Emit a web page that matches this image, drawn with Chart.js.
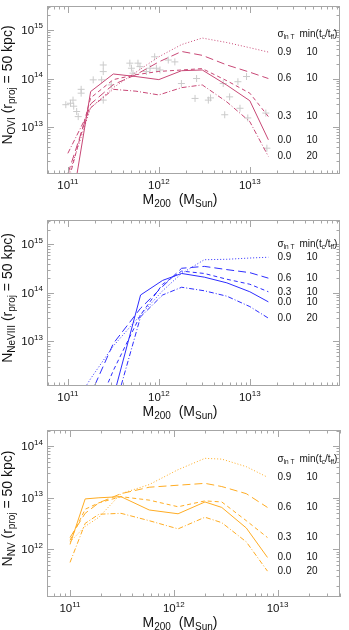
<!DOCTYPE html>
<html lang="en">
<head>
<meta charset="UTF-8">
<title>Column density vs halo mass</title>
<script src="https://cdn.jsdelivr.net/npm/chart.js@4.4.0/dist/chart.umd.min.js"></script>
<style>
  html, body { margin: 0; padding: 0; background: #fff; }
  .panel { position: absolute; left: 0; width: 349px; height: 210px; }
</style>
</head>
<body>
<div class="panel" style="top:0"><canvas id="ovi" width="349" height="210"></canvas></div>
<div class="panel" style="top:210px"><canvas id="neviii" width="349" height="210"></canvas></div>
<div class="panel" style="top:420px"><canvas id="nv" width="349" height="210"></canvas></div>
<script>
// row labels at the right end of the curves
var sigmaLabels = ['0.9', '0.6', '0.3', '0.0', '0.0'];
var tminLabels = ['10', '10', '10', '10', '20'];

// O VI panel (series order: 0.9/10, 0.6/10, 0.3/10, 0.0/10, 0.0/20)
var oviMass = [1e11, 1.78e11, 3.16e11, 5.6e11, 1e12, 1.78e12, 3e12, 5.6e12, 1e13, 1.6e13];
var oviS09 = [9e11, 2.5e13, 6.5e13, 1.35e14, 2.8e14, 5e14, 6.8e14, 5.5e14, 4.3e14, 3.5e14];
var oviS06 = [1.1e12, 3e13, 7.5e13, 1.2e14, 2.2e14, 3.6e14, 3e14, 1.9e14, 1.35e14, 1e14];
var oviS03 = [7e11, 4e13, 9.5e13, 1.2e14, 1.4e14, 1.5e14, 1.6e14, 9e13, 5e13, 1.65e13];
var oviS00 = [8e10, 5.4e13, 1.24e14, 1.1e14, 9.5e13, 1.45e14, 1.5e14, 7.3e13, 3.5e13, 5.5e12];
var oviS00t20 = [2.9e12, 2.5e13, 6e13, 5.5e13, 4.6e13, 6.5e13, 7.4e13, 3.3e13, 1.3e13, 2.5e12];

// observed O VI columns (grey crosses)
var obsMass = [9.5e10, 1.07e11, 1.14e11, 1.16e11, 1.25e11, 1.3e11, 1.4e11, 1.4e11, 1.9e11, 2.45e11,
  2.45e11, 2.35e11, 3e11, 4.8e11, 5e11, 5.2e11, 5.9e11, 6.2e11, 7.3e11, 8e11,
  9e11, 9.4e11, 1.03e12, 1.27e12, 1.5e12, 1.77e12, 2.5e12, 2.6e12, 3.5e12, 3.7e12,
  5.1e12, 5.3e12, 6e12, 7.4e12, 7.8e12, 9.2e12, 9.5e12, 1.5e13, 1.54e13, 2.45e11];
var obsN = [2.9e13, 3.1e13, 3.6e13, 2.7e13, 2.1e13, 1.65e13, 6e13, 5e13, 9.4e13, 1.39e14,
  1.9e14, 9.4e13, 7.4e13, 2.07e14, 1.63e14, 1.29e14, 2.07e14, 1.76e14, 1.39e14, 1.63e14,
  2.8e14, 1.63e14, 1.5e14, 2.4e14, 2.2e14, 7.9e13, 3.9e13, 1e14, 3.6e13, 4e13,
  7.9e13, 1.8e13, 4.2e13, 8.6e13, 2.45e13, 1.1e14, 1.55e13, 1.95e13, 3.7e12, 3.6e13];

// Ne VIII panel
var neMass = [1e11, 1.78e11, 3.16e11, 6.3e11, 1.1e12, 1.78e12, 3.16e12, 5.6e12, 1e13, 1.6e13];
var neS09 = [3e11, 1.7e12, 8e12, 3.5e13, 1.1e14, 2.5e14, 4.8e14, 4.9e14, 5.2e14, 5.4e14];
var neS06 = [1e11, 8e11, 9e12, 4.8e13, 1.35e14, 3.2e14, 3.5e14, 3e14, 2.6e14, 2e14];
var neS03 = [1e10, 2e11, 2.5e12, 3.5e13, 1.5e14, 2.8e14, 2.5e14, 1.9e14, 1.5e14, 1.05e14];
var neS00 = [1e9, 5e10, 7e11, 9e13, 1.8e14, 2.5e14, 2.1e14, 1.6e14, 1.05e14, 6.5e13];
var neS00t20 = [1e9, 3e10, 3.3e11, 3.2e13, 9e13, 1.3e14, 1.1e14, 8.5e13, 5.2e13, 3e13];

// N V panel
var nvMass = [1e11, 1.4e11, 1.9e11, 3.1e11, 5.8e11, 1.1e12, 2e12, 2.9e12, 5e12, 8e12];
var nvS09 = [1.4e12, 2.8e12, 4.2e12, 1.2e13, 1.8e13, 3.5e13, 5.8e13, 5.6e13, 4e13, 2.5e13];
var nvS06 = [1.7e12, 5e12, 8e12, 1.2e13, 1.6e13, 1.75e13, 1.9e13, 1.65e13, 1.2e13, 6.5e12];
var nvS03 = [1.5e12, 6e12, 8e12, 1.05e13, 9e12, 6.7e12, 8.7e12, 8.3e12, 3.6e12, 1.7e12];
var nvS00 = [1.25e12, 9.5e12, 1e13, 1.05e13, 5.8e12, 4.9e12, 8.3e12, 6.5e12, 2.6e12, 7e11];
var nvS00t20 = [5.6e11, 3.2e12, 4.8e12, 5e12, 3.6e12, 2.5e12, 4.2e12, 3.3e12, 1.4e12, 3.8e11];

var dashes = [[1, 2], [8, 4], [4, 3], [], [5, 2, 1, 2]];
var FONT = 'Helvetica, Arial, "Liberation Sans", sans-serif';

function font(px) { return px + 'px ' + FONT; }

// draw a run of text pieces, some lowered (sub) or raised (sup)
function richWidth(ctx, parts) {
  var w = 0;
  parts.forEach(function (p) { ctx.font = font(p.f); w += ctx.measureText(p.t).width; });
  return w;
}
function drawRich(ctx, parts, x, y) {
  parts.forEach(function (p) {
    ctx.font = font(p.f);
    ctx.fillText(p.t, x, y + (p.dy || 0));
    x += ctx.measureText(p.t).width;
  });
}

function logTicks(scale) {
  var out = [];
  var e0 = Math.floor(Math.log10(scale.min)), e1 = Math.ceil(Math.log10(scale.max));
  for (var e = e0; e <= e1; e++) {
    for (var m = 1; m < 10; m++) {
      var v = m * Math.pow(10, e);
      if (v >= scale.min * 0.999 && v <= scale.max * 1.001) out.push({ v: v, e: e, major: m === 1 });
    }
  }
  return out;
}

var frame = {
  id: 'frame',
  afterDraw: function (chart, args, o) {
    var ctx = chart.ctx, a = chart.chartArea;
    var xs = chart.scales.x, ys = chart.scales.y;
    ctx.save();
    ctx.strokeStyle = '#a6a6a6';
    ctx.lineWidth = 1;
    ctx.strokeRect(a.left + 0.5, a.top + 0.5, a.right - a.left - 1, a.bottom - a.top - 1);

    ctx.beginPath();
    logTicks(xs).forEach(function (t) {
      var px = Math.round(xs.getPixelForValue(t.v)) + 0.5, len = t.major ? 7 : 3.5;
      ctx.moveTo(px, a.bottom); ctx.lineTo(px, a.bottom - len);
      ctx.moveTo(px, a.top); ctx.lineTo(px, a.top + len);
    });
    logTicks(ys).forEach(function (t) {
      var py = Math.round(ys.getPixelForValue(t.v)) + 0.5, len = t.major ? 7 : 3.5;
      ctx.moveTo(a.left, py); ctx.lineTo(a.left + len, py);
      ctx.moveTo(a.right, py); ctx.lineTo(a.right - len, py);
    });
    ctx.stroke();

    ctx.fillStyle = '#111';
    ctx.textBaseline = 'alphabetic';
    ctx.textAlign = 'left';
    // decade labels
    logTicks(xs).filter(function (t) { return t.major; }).forEach(function (t) {
      var parts = [{ t: '10', f: 11.5 }, { t: String(t.e), f: 8, dy: -5.5 }];
      var w = richWidth(ctx, parts);
      drawRich(ctx, parts, xs.getPixelForValue(t.v) - w / 2, a.bottom + 15);
    });
    logTicks(ys).filter(function (t) { return t.major; }).forEach(function (t) {
      var parts = [{ t: '10', f: 11.5 }, { t: String(t.e), f: 8, dy: -5.5 }];
      var w = richWidth(ctx, parts);
      drawRich(ctx, parts, a.left - 4 - w, ys.getPixelForValue(t.v) + 4);
    });

    // axis titles
    var xt = [{ t: 'M', f: 14 }, { t: '200', f: 10, dy: 3 }, { t: '  (M', f: 14 }, { t: 'Sun', f: 10, dy: 3 }, { t: ')', f: 14 }];
    drawRich(ctx, xt, 180 - richWidth(ctx, xt) / 2, a.bottom + 30);
    var yt = [{ t: 'N', f: 14 }, { t: o.ion, f: 10, dy: 3 }, { t: ' (r', f: 14 }, { t: 'proj', f: 10, dy: 3 }, { t: ' = 50 kpc)', f: 14 }];
    ctx.save();
    ctx.translate(11.5, (a.top + a.bottom) / 2 - 5);
    ctx.rotate(-Math.PI / 2);
    drawRich(ctx, yt, -richWidth(ctx, yt) / 2, 0);
    ctx.restore();

    // model labels
    drawRich(ctx, [{ t: '\u03c3', f: 10 }, { t: 'ln T', f: 6.5, dy: 2 }], 277.5, o.headY);
    drawRich(ctx, [{ t: 'min(t', f: 10 }, { t: 'c', f: 6.5, dy: 2 }, { t: '/t', f: 10 }, { t: 'ff', f: 6.5, dy: 2 }, { t: ')', f: 10 }], 299.5, o.headY);
    ctx.textBaseline = 'middle';
    ctx.font = font(10);
    chart.data.datasets.forEach(function (ds, i) {
      if (i >= sigmaLabels.length) return;
      var last = ds.data[ds.data.length - 1];
      var py = ys.getPixelForValue(last.y);
      ctx.fillText(sigmaLabels[i], 277.5, py);
      ctx.fillText(tminLabels[i], 306.5, py);
    });
    ctx.restore();
  }
};

function makePanel(id, cfg) {
  var datasets = cfg.series.map(function (vals, i) {
    return {
      data: cfg.mass.map(function (m, j) { return { x: m, y: vals[j] }; }),
      showLine: true, pointRadius: 0, borderWidth: 1, borderColor: cfg.color,
      borderDash: dashes[i], fill: false, clip: 0
    };
  });
  if (cfg.obsMass) {
    datasets.push({
      data: cfg.obsMass.map(function (m, j) { return { x: m, y: cfg.obsN[j] }; }),
      pointStyle: 'cross', pointRadius: 3.5, borderWidth: 1,
      borderColor: '#cbcbcb', backgroundColor: '#cbcbcb', clip: 0
    });
  }
  new Chart(document.getElementById(id), {
    type: 'scatter',
    data: { datasets: datasets },
    options: {
      responsive: false, animation: false, events: [],
      layout: { padding: { top: cfg.top, right: 9, left: 0, bottom: 0 } },
      plugins: {
        legend: { display: false }, tooltip: { enabled: false },
        frame: { ion: cfg.ion, headY: cfg.headY }
      },
      scales: {
        x: {
          type: 'logarithmic', min: cfg.xRange[0], max: cfg.xRange[1], bounds: 'data',
          grid: { display: false }, border: { display: false }, ticks: { display: false },
          afterFit: function (s) { s.height = 210 - cfg.bottom; }
        },
        y: {
          type: 'logarithmic', min: cfg.yRange[0], max: cfg.yRange[1], bounds: 'data',
          grid: { display: false }, border: { display: false }, ticks: { display: false },
          afterFit: function (s) { s.width = 47; }
        }
      }
    },
    plugins: [frame]
  });
}

makePanel('ovi', {
  ion: 'OVI', color: 'rgb(200,72,118)', top: 6, bottom: 174, headY: 37,
  xRange: [5.9e10, 9.8e13], yRange: [1.09e12, 3.1e15],
  mass: oviMass, series: [oviS09, oviS06, oviS03, oviS00, oviS00t20],
  obsMass: obsMass, obsN: obsN
});
makePanel('neviii', {
  ion: 'NeVIII', color: 'rgb(45,45,255)', top: 10, bottom: 176, headY: 37,
  xRange: [5.9e10, 9.8e13], yRange: [1.2e12, 3.16e15],
  mass: neMass, series: [neS09, neS06, neS03, neS00, neS00t20]
});
makePanel('nv', {
  ion: 'NV', color: 'rgb(255,172,35)', top: 10, bottom: 177, headY: 42,
  xRange: [6e10, 4e13], yRange: [1.2e11, 2.05e14],
  mass: nvMass, series: [nvS09, nvS06, nvS03, nvS00, nvS00t20]
});
</script>
</body>
</html>
